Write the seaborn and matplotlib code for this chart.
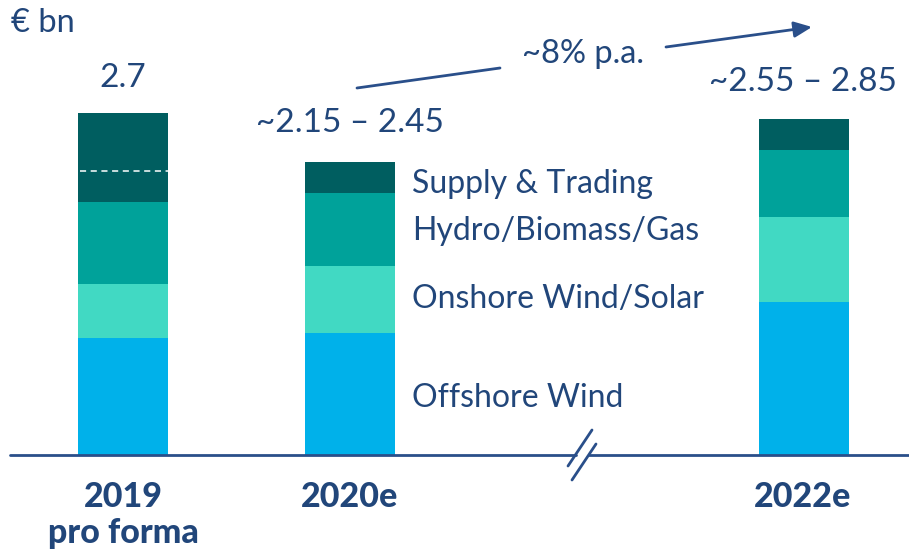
import numpy as np
import pandas as pd
import matplotlib
matplotlib.use("Agg")
import matplotlib.pyplot as plt
import seaborn as sns

# --- data (€ bn) ---
years = [0, 1, 3]
year_labels = ["2019\npro forma", "2020e", "2022e"]
segments = ["Offshore Wind", "Onshore Wind/Solar", "Hydro/Biomass/Gas", "Supply & Trading"]
offshore = [0.92, 0.96, 1.21]
onshore = [0.43, 0.53, 0.67]
hydro = [0.65, 0.58, 0.53]
supply = [0.70, 0.245, 0.245]
supply_split_2019 = 0.245  # dashed line inside 2019 Supply & Trading
total_labels = ["2.7", "~2.15 – 2.45", "~2.55 – 2.85"]
growth_label = "~8% p.a."

colors = {
    "Offshore Wind": "#00B1EA",
    "Onshore Wind/Solar": "#41D9C3",
    "Hydro/Biomass/Gas": "#00A29A",
    "Supply & Trading": "#005E60",
}
TXT = "#21467A"
LINE = "#2A4F8A"

sns.set_theme(style="white")
plt.rcParams["font.family"] = ["Lato", "DejaVu Sans"]

df = pd.DataFrame({"year": years, "Offshore Wind": offshore, "Onshore Wind/Solar": onshore,
                   "Hydro/Biomass/Gas": hydro, "Supply & Trading": supply})
# cumulative sums, drawn from top to bottom so lower segments overlay
cum = df[segments].cumsum(axis=1)
cum["year"] = df["year"]

W, H = 909, 550
fig = plt.figure(figsize=(W / 100, H / 100), dpi=100)
ax = fig.add_axes([0, 0, 1, 1])

for seg in reversed(segments):
    sns.barplot(data=cum, x="year", y=seg, native_scale=True, width=0.4,
                color=colors[seg], saturation=1, linewidth=0, ax=ax)

# px -> data helpers (axes fill the figure)
px_per_x = 227.0
px_per_y = 126.7
x0_px, base_px = 123.0, 455.0
ax.set_xlim(-x0_px / px_per_x, (W - x0_px) / px_per_x)
ax.set_ylim(-(H - base_px) / px_per_y, base_px / px_per_y)
ax.axis("off")

def fx(px):
    return px / W

def fy(py):
    return 1 - py / H

# dashed split in 2019 supply
ydash = offshore[0] + onshore[0] + hydro[0] + supply_split_2019
ax.hlines(ydash, -0.19, 0.2, colors="white", linestyles=(0, (4, 3)), linewidth=1.1)

# baseline with break
line_kw = dict(color=LINE, lw=2, transform=fig.transFigure, clip_on=False)
ax.plot([fx(10), fx(576)], [fy(455), fy(455)], **line_kw)
ax.plot([fx(589), fx(909)], [fy(455), fy(455)], **line_kw)
ax.plot([fx(568), fx(592)], [fy(466), fy(430)], **line_kw)
ax.plot([fx(572), fx(596)], [fy(480), fy(444)], **line_kw)

# growth arrow
ax.plot([fx(357), fx(500)], [fy(88), fy(68)], **line_kw)
ax.annotate("", xy=(fx(812), fy(27)), xytext=(fx(666), fy(47)), xycoords="figure fraction",
            arrowprops=dict(arrowstyle="-|>,head_length=0.9,head_width=0.4", color=LINE, lw=2,
                            shrinkA=0, shrinkB=0))
fig.text(fx(583), fy(54), growth_label, ha="center", va="center", fontsize=23.5, color=TXT)

# unit
fig.text(fx(11), fy(23), "€ bn", ha="left", va="center", fontsize=23.5, color=TXT)

# total labels
tot_pos = [(123, 78), (350, 123), (803, 82)]
for lab, (px, py) in zip(total_labels, tot_pos):
    fig.text(fx(px), fy(py), lab, ha="center", va="center", fontsize=24, color=TXT)

# segment labels
seg_pos = {"Supply & Trading": 184, "Hydro/Biomass/Gas": 231,
           "Onshore Wind/Solar": 299, "Offshore Wind": 398}
for seg, py in seg_pos.items():
    fig.text(fx(412), fy(py), seg, ha="left", va="center", fontsize=23, color=TXT)

# category labels (one text per line)
for lab, px in zip(year_labels, [123, 350, 803]):
    for i, part in enumerate(lab.split("\n")):
        fig.text(fx(px), fy(497 + 36 * i), part, ha="center", va="center", fontsize=24.5,
                 color=TXT, fontweight="black")

fig.savefig("out.png", dpi=100)
